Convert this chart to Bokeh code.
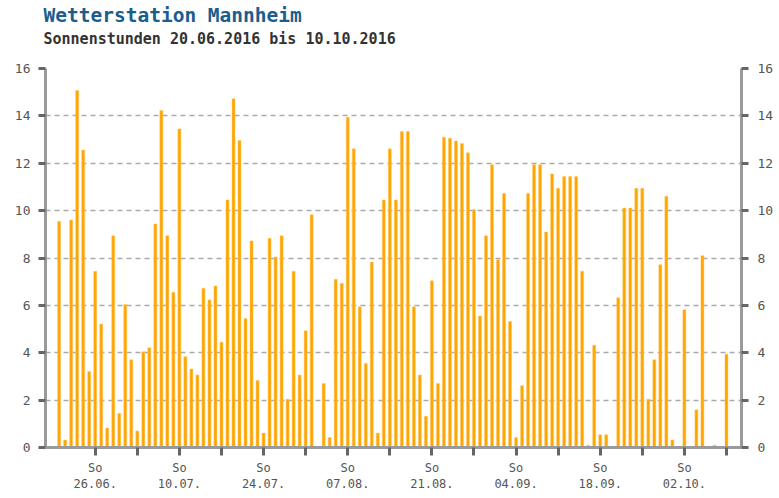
import pandas as pd
from bokeh.plotting import figure
from bokeh.models import Range1d, FixedTicker, LinearAxis, Title, ColumnDataSource
from bokeh.embed import file_html
from bokeh.resources import INLINE

# ---- data ----
dates = pd.date_range("2016-06-20", "2016-10-10", freq="D")
sun_hours = [
    9.55, 0.32, 9.6, 15.07, 12.56, 3.21, 7.44, 5.21, 0.82, 8.94,
    1.44, 6.04, 3.70, 0.70, 4.04, 4.21, 9.44, 14.23, 8.94, 6.55,
    13.45, 3.83, 3.31, 3.06, 6.72, 6.23, 6.82, 4.44, 10.45, 14.72,
    12.96, 5.45, 8.72, 2.83, 0.61, 8.83, 8.04, 8.94, 2.04, 7.44,
    3.06, 4.93, 9.83, 0.0, 2.70, 0.42, 7.10, 6.93, 13.94, 12.61,
    5.94, 3.55, 7.83, 0.61, 10.45, 12.61, 10.45, 13.34, 13.34, 5.94,
    3.06, 1.32, 7.04, 2.70, 13.10, 13.06, 12.94, 12.83, 12.44, 10.04,
    5.55, 8.94, 11.94, 7.93, 10.72, 5.32, 0.42, 2.61, 10.72, 11.94,
    11.94, 9.10, 11.55, 10.94, 11.44, 11.44, 11.44, 7.44, 0.1, 4.32,
    0.54, 0.54, 0.0, 6.32, 10.11, 10.11, 10.94, 10.94, 2.04, 3.70,
    7.72, 10.61, 0.32, 0.0, 5.82, 0.0, 1.59, 8.10, 0.0, 0.1,
    0.0, 3.94, 0.0,
]
sunday_ticks = pd.date_range("2016-06-26", "2016-10-09", freq="7D")
labelled_sundays = ["26.06.", "10.07.", "24.07.", "07.08.",
                    "21.08.", "04.09.", "18.09.", "02.10."]
weekday_label = "So"
y_ticks = [0, 2, 4, 6, 8, 10, 12, 14, 16]
grid_ticks = [2, 4, 6, 8, 10, 12, 14, 16]
title_text = "Wetterstation Mannheim"
subtitle_text = "Sonnenstunden 20.06.2016 bis 10.10.2016"

# ---- derived ----
day = [(d - dates[0]).days for d in dates]
src = ColumnDataSource(dict(x=day, h=sun_hours))
tick_pos = [float((d - dates[0]).days) for d in sunday_ticks]
overrides = {}
for k, t in enumerate(tick_pos):
    if k % 2 == 0 and k // 2 < len(labelled_sundays):
        overrides[t] = weekday_label + "\n" + labelled_sundays[k // 2]
    else:
        overrides[t] = ""

FONT = "DejaVu Sans Mono"

p = figure(width=779, height=496, output_backend="svg", toolbar_location=None,
           x_range=Range1d(-2.27, 113.5), y_range=Range1d(0, 16),
           min_border_left=45, min_border_right=38, min_border_top=4,
           min_border_bottom=49, outline_line_color=None,
           background_fill_color="white", border_fill_color="white")

p.vbar(x="x", top="h", bottom=0, width=0.5, source=src,
       fill_color="#FFA500", line_color="#FFC966", line_width=0.5)

# grid
p.xgrid.visible = False
p.ygrid.ticker = FixedTicker(ticks=grid_ticks)
p.ygrid.grid_line_color = "#aaaaaa"
p.ygrid.grid_line_dash = "5 4"
p.ygrid.grid_line_width = 1.6

def style_axis(ax, size):
    ax.axis_line_color = "#9a9a9a"
    ax.axis_line_width = 3
    ax.major_tick_line_color = "#666666"
    ax.major_tick_line_width = 3
    ax.major_tick_in = 0
    ax.major_tick_out = 7
    ax.minor_tick_line_color = None
    ax.major_label_text_font = FONT
    ax.major_label_text_font_size = size
    ax.major_label_text_color = "#555555"

# y axes
p.yaxis.ticker = FixedTicker(ticks=y_ticks)
style_axis(p.yaxis[0], "13px")
p.yaxis.major_label_standoff = 8
right = LinearAxis(ticker=FixedTicker(ticks=y_ticks))
style_axis(right, "13px")
right.major_label_standoff = 9
p.add_layout(right, "right")

# x axis
p.xaxis.ticker = FixedTicker(ticks=tick_pos)
p.xaxis.major_label_overrides = overrides
style_axis(p.xaxis[0], "12px")
p.xaxis.major_tick_out = 8
p.xaxis.major_label_standoff = 5

# titles (spacer first = closest to the plot frame)
spacer = Title(text=" ", align="left", text_font_size="1px", standoff=18)
p.add_layout(spacer, "above")
sub = Title(text=subtitle_text, align="left", text_font=FONT,
            text_font_size="15px", text_font_style="bold",
            text_color="#333333", standoff=0, offset=-2)
p.add_layout(sub, "above")
main = Title(text=title_text, align="left", text_font=FONT,
             text_font_size="19.5px", text_font_style="bold",
             text_color="#1b5e8e", standoff=2, offset=-2)
p.add_layout(main, "above")

open("out.html", "w").write(file_html(p, INLINE))
